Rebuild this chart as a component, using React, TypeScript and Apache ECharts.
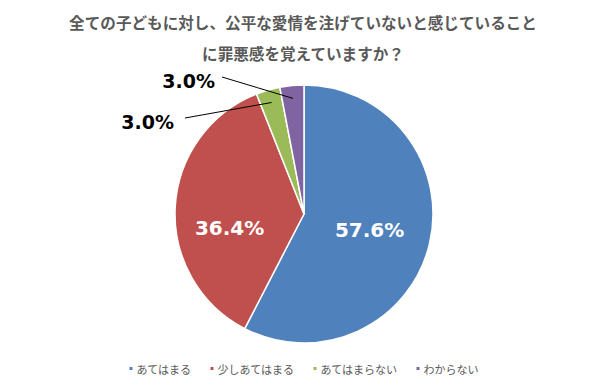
import React, { useEffect, useRef } from "react";
import * as echarts from "echarts";

const TITLE = "全ての子どもに対し、公平な愛情を注げていないと感じていること\nに罪悪感を覚えていますか？";
const categories = ["あてはまる", "少しあてはまる", "あてはまらない", "わからない"];
const values = [57.6, 36.4, 3.0, 3.0];
const colors = ["#4F81BD", "#C0504D", "#9BBB59", "#8064A2"];

const CX = 304;
const CY = 214;
const R = 129;

// placement of the outer labels (layout only)
const outerLabelPlace: Record<number, { x: number; y: number; endX: number; endY: number }> = {
  2: { x: 174, y: 122, endX: 185, endY: 118 },
  3: { x: 215, y: 81, endX: 222, endY: 77 },
};

export default function App() {
  const ref = useRef<HTMLDivElement>(null);
  useEffect(() => {
    document.body.style.margin = "0";
    const chart = echarts.init(ref.current!, null, { renderer: "svg" });
    const total = values.reduce((a, b) => a + b, 0);
    const midAngle = (i: number) => {
      let cum = 0;
      for (let k = 0; k < i; k++) cum += values[k];
      const mid = cum + values[i] / 2;
      return ((90 - (mid / total) * 360) * Math.PI) / 180;
    };
    const fmt = (p: any) => p.value.toFixed(1) + "%";
    chart.setOption({
      animation: false,
      backgroundColor: "#ffffff",
      title: {
        text: TITLE,
        left: "center",
        top: 6,
        padding: 0,
        textStyle: {
          fontFamily: "Noto Sans CJK JP",
          fontSize: 15.6,
          fontWeight: "bold",
          color: "#595959",
          lineHeight: 31,
        },
      },
      legend: {
        data: categories,
        bottom: 8,
        left: "center",
        icon: "rect",
        itemWidth: 5,
        itemHeight: 5,
        itemGap: 17,
        textStyle: {
          fontFamily: "Noto Sans CJK JP",
          fontSize: 11,
          color: "#595959",
          padding: [0, 0, 0, -2],
        },
      },
      series: [
        {
          type: "pie",
          z: 2,
          center: [CX, CY],
          radius: R,
          startAngle: 90,
          clockwise: true,
          avoidLabelOverlap: false,
          itemStyle: { borderColor: "#ffffff", borderWidth: 1.5 },
          label: {
            position: "inside",
            fontFamily: "DejaVu Sans",
            fontWeight: "bold",
            fontSize: 20,
            color: "#ffffff",
            formatter: fmt,
          },
          labelLine: { show: false },
          labelLayout: (params: any) => (params.dataIndex === 1 ? { dx: -7, dy: 17 } : {}),
          data: categories.map((name, i) => ({
            name,
            value: values[i],
            itemStyle: { color: colors[i] },
            label: { show: i < 2 },
          })),
        },
        {
          type: "pie",
          z: 5,
          silent: true,
          center: [CX, CY],
          radius: R,
          startAngle: 90,
          clockwise: true,
          avoidLabelOverlap: false,
          itemStyle: { color: "rgba(0,0,0,0)", borderWidth: 0 },
          label: {
            position: "outside",
            fontFamily: "DejaVu Sans",
            fontWeight: "bold",
            fontSize: 19,
            color: "#000000",
            formatter: fmt,
          },
          labelLine: { show: true, length: 10, length2: 10, lineStyle: { color: "#000000", width: 1 } },
          labelLayout: (params: any) => {
            const i = params.dataIndex;
            const place = outerLabelPlace[i];
            if (!place) return {};
            const a = midAngle(i);
            const sx = CX + R * 0.9 * Math.cos(a);
            const sy = CY - R * 0.9 * Math.sin(a);
            return {
              x: place.x,
              y: place.y,
              align: "right",
              verticalAlign: "middle",
              labelLinePoints: [
                [sx, sy],
                [(sx + place.endX) / 2, (sy + place.endY) / 2],
                [place.endX, place.endY],
              ],
            };
          },
          data: categories.map((name, i) => ({
            name,
            value: values[i],
            label: { show: i >= 2 },
            labelLine: { show: i >= 2 },
          })),
        },
      ],
    });
    return () => chart.dispose();
  }, []);
  return <div ref={ref} style={{ width: 606, height: 387 }} />;
}
